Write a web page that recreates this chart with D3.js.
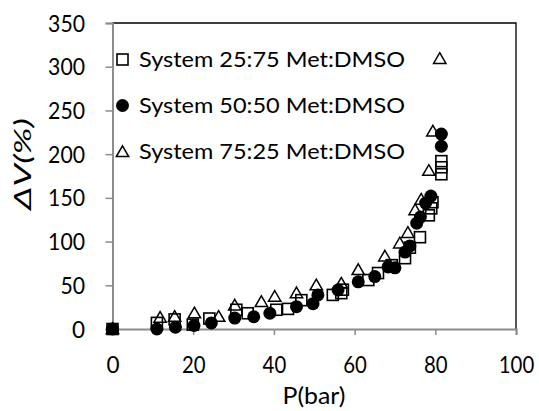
<!DOCTYPE html>
<html><head><meta charset="utf-8">
<script src="https://cdn.jsdelivr.net/npm/d3@7"></script>
<style>html,body{margin:0;padding:0;background:#fff;}svg{display:block;}</style>
</head><body>
<script>
// ---- data ----
const seriesNames = ["System 25:75 Met:DMSO", "System 50:50 Met:DMSO", "System 75:25 Met:DMSO"];
const xTicks = [0, 20, 40, 60, 80, 100];
const yTicks = [0, 50, 100, 150, 200, 250, 300, 350];
const s2575 = [[0,0],[11,7],[15.4,11],[19.9,5],[24,12],[30.7,22],[33.5,18],[40.6,22],[43.5,23],[46.8,33],[54.6,39],[56.7,41],[57.1,45],[63.4,56],[65.8,64],[69.2,73],[72.5,81],[73.7,93],[76.2,105],[78.4,130],[79,138],[79.3,145],[81.5,177],[81.5,185],[81.5,192]];
const s5050 = [[0,0],[11,0],[15.6,2],[20.2,4],[24.5,7],[30.3,12.5],[35,14],[39,18],[45.6,25.5],[49.7,29],[50.9,39],[55.9,44.6],[60.9,54],[65,60],[68.3,71],[70,70],[72.5,88],[73.7,95],[75.4,121],[76.3,128],[77.6,144],[78.9,152],[81.5,209],[81.5,223]];
const s7525 = [[0,0],[11.8,13],[15.4,14],[20.3,18],[26.3,14],[30.3,27],[36.9,31],[40.2,37],[45.6,41],[50.5,50],[56.7,52],[60.9,67.5],[67.5,83],[71.2,98],[73.2,110],[75,136],[76.5,148],[78.4,181],[79.4,226],[81.1,309]];

const W = 539, H = 411;
const FONT = "Lato, 'Open Sans', sans-serif";
const svg = d3.select("body").append("svg").attr("width", W).attr("height", H);

const tickFs = 22.5, legFs = 20.5;

const x = d3.scaleLinear().domain([0, 100]).range([112.5, 516]);
const y = d3.scaleLinear().domain([0, 350]).range([329, 23]);

// plot border (top/right black)
svg.append("path")
  .attr("d", `M${x(0)},${y(350)}H${x(100)}V${y(0)}`)
  .attr("fill", "none").attr("stroke", "#000").attr("stroke-width", 1.3);

const axisColor = "#8c8c8c";
const gx = svg.append("g").attr("transform", `translate(0,${y(0)})`)
  .call(d3.axisBottom(x).tickValues(xTicks).tickSize(6).tickPadding(20).tickFormat(d3.format("d")));
const gy = svg.append("g").attr("transform", `translate(${x(0)},0)`)
  .call(d3.axisLeft(y).tickValues(yTicks).tickSize(7).tickPadding(20).tickFormat(d3.format("d")));
[gx, gy].forEach(g => {
  g.select(".domain").attr("stroke", axisColor).attr("stroke-width", 2);
  g.selectAll(".tick line").attr("stroke", axisColor).attr("stroke-width", 1.5);
  g.selectAll(".tick text").attr("font-family", FONT).attr("font-size", tickFs).attr("fill", "#000");
});
gy.selectAll(".tick text").attr("dy", "0.36em").attr("x", -27.5)
  .each(function(d) { const s = String(d); if (s.length > 1) d3.select(this).attr("textLength", s.length * 12.3).attr("lengthAdjust", "spacingAndGlyphs"); });
gx.selectAll(".tick text").attr("dy", null).attr("y", 44)
  .each(function(d) { const s = String(d); if (s.length > 1) d3.select(this).attr("textLength", s.length * 11.8).attr("lengthAdjust", "spacingAndGlyphs"); });

// axis titles
svg.append("text").attr("x", 314).attr("y", 404).attr("text-anchor", "middle")
  .attr("font-family", FONT).attr("font-size", tickFs)
  .attr("textLength", 63).attr("lengthAdjust", "spacingAndGlyphs").text("P(bar)");
svg.append("text").attr("transform", "translate(31,164) rotate(-90)").attr("text-anchor", "middle")
  .attr("font-family", FONT).attr("font-size", tickFs).attr("font-style", "italic")
  .attr("textLength", 92).attr("lengthAdjust", "spacingAndGlyphs").text("ΔV(%)");

// markers
const sqSize = 11, circR = 6.5, triSize = 66;
const triPath = d3.symbol().type(d3.symbolTriangle).size(triSize)();
function drawSquares(g, data) {
  g.selectAll("rect").data(data).join("rect")
    .attr("x", d => x(d[0]) - sqSize / 2).attr("y", d => y(d[1]) - sqSize / 2)
    .attr("width", sqSize).attr("height", sqSize)
    .attr("fill", "none").attr("stroke", "#000").attr("stroke-width", 1.6);
}
function drawCircles(g, data) {
  g.selectAll("circle").data(data).join("circle")
    .attr("cx", d => x(d[0])).attr("cy", d => y(d[1])).attr("r", circR).attr("fill", "#000");
}
function drawTriangles(g, data) {
  g.selectAll("path").data(data).join("path")
    .attr("d", triPath).attr("transform", d => `translate(${x(d[0])},${y(d[1]) + 1})`)
    .attr("fill", "none").attr("stroke", "#000").attr("stroke-width", 1.5);
}
drawSquares(svg.append("g"), s2575);
drawTriangles(svg.append("g"), s7525);
drawCircles(svg.append("g"), s5050);

// legend
const legY = [59.5, 105.5, 152];
const lg = svg.append("g");
const mx = 122.5;
lg.append("rect").attr("x", mx - sqSize / 2).attr("y", legY[0] - sqSize / 2).attr("width", sqSize).attr("height", sqSize)
  .attr("fill", "none").attr("stroke", "#000").attr("stroke-width", 1.6);
lg.append("circle").attr("cx", mx).attr("cy", legY[1]).attr("r", circR).attr("fill", "#000");
lg.append("path").attr("d", triPath).attr("transform", `translate(${mx},${legY[2] + 1})`)
  .attr("fill", "none").attr("stroke", "#000").attr("stroke-width", 1.5);
seriesNames.forEach((n, i) => {
  lg.append("text").attr("x", 139).attr("y", legY[i] + 7.3)
    .attr("font-family", FONT).attr("font-size", legFs).attr("fill", "#000")
    .attr("textLength", 266).attr("lengthAdjust", "spacingAndGlyphs").text(n);
});
</script>
</body></html>
